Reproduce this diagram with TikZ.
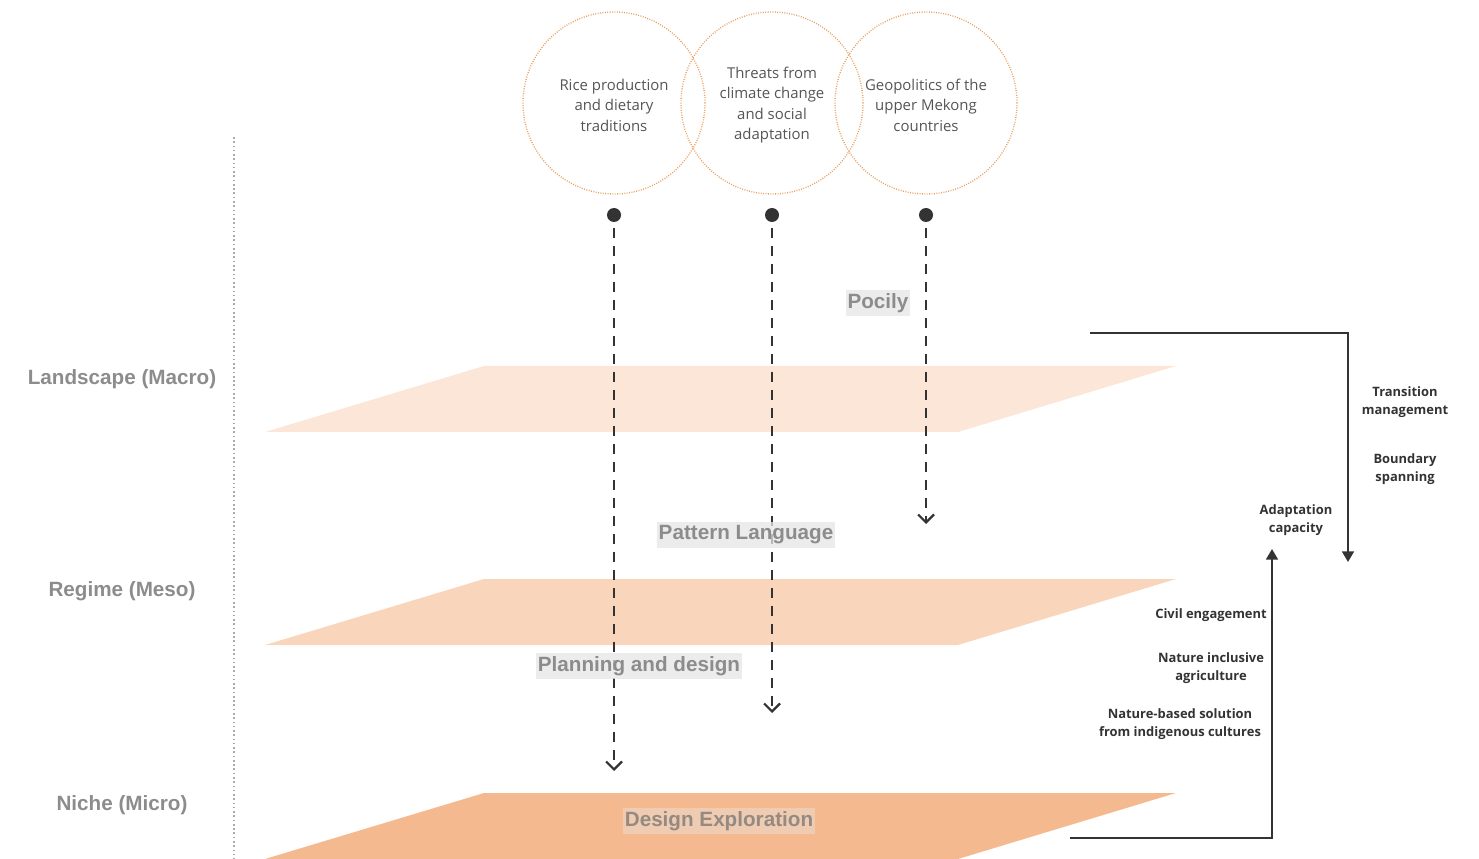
\documentclass[tikz,border=0pt]{standalone}
\usepackage{fontspec}
\setmainfont{Open Sans}
\newfontfamily\lvlfont{Liberation Sans}
\usetikzlibrary{arrows.meta}

\definecolor{ringc}{HTML}{E8A05F}
\definecolor{macroc}{HTML}{FCE6D8}
\definecolor{mesoc}{HTML}{F9D5BC}
\definecolor{microc}{HTML}{F5B98F}
\definecolor{lvltext}{HTML}{8C8C8C}
\definecolor{tagbg}{HTML}{E6E6E6}
\definecolor{ringtext}{HTML}{555555}
\definecolor{inkc}{HTML}{333333}
\definecolor{axisc}{HTML}{AAAAAA}

\tikzset{
  ring/.style={circle, draw=ringc, line width=1pt, dash pattern=on 0.7pt off 1.1pt,
    minimum size=136.5pt, inner sep=0pt, align=center, text=ringtext,
    font=\fontsize{11.2}{15.4}\selectfont},
  pin/.style={circle, fill=inkc, minimum size=10.5pt, inner sep=0pt},
  flowdash/.style={draw=inkc, line width=2pt, dash pattern=on 7.5pt off 6pt,
    -{Straight Barb[length=6pt,width=12pt,line width=1.6pt]}, shorten <=4pt},
  flowsolid/.style={draw=inkc, line width=1.3pt, -{Triangle[length=8pt,width=9pt]}},
  lvllabel/.style={font=\lvlfont\bfseries\fontsize{15.5}{18}\selectfont, text=lvltext},
  tag/.style={lvllabel, fill=tagbg, fill opacity=0.75, text opacity=1,
    inner xsep=1.5pt, inner ysep=2.5pt},
  sidenote/.style={font=\bfseries\fontsize{9.7}{14}\selectfont, text=inkc, align=center},
}

\begin{document}
\begin{tikzpicture}[x=0.75pt, y=-0.75pt]
  \useasboundingbox (0,0) rectangle (1479,859);

  % planes of the three levels
  \fill[macroc] (484,366) -- (1176,366) -- (958,432) -- (265,432) -- cycle;
  \fill[mesoc]  (484,579) -- (1176,579) -- (958,645) -- (265,645) -- cycle;
  \fill[microc] (484,793) -- (1176,793) -- (958,859) -- (265,859) -- cycle;

  % level axis
  \draw[axisc, line width=1.2pt, dotted] (234,137) -- (234,859);
  \node[lvllabel] (macro) at (122,379) {Landscape (Macro)};
  \node[lvllabel] (meso)  at (122,591) {Regime (Meso)};
  \node[lvllabel] (micro) at (122,805) {Niche (Micro)};

  % driving themes
  \node[ring] (c1) at (614,103) {};
  \node[ring] (c2) at (772,103) {};
  \node[ring] (c3) at (926,103) {};
  \node[ring, draw=none] (t1) at (614,105) {Rice production\\and dietary\\traditions};
  \node[ring, draw=none] (t2) at (772,105) {Threats from\\climate change\\and social\\adaptation};
  \node[ring, draw=none] (t3) at (926,105) {Geopolitics of the\\upper Mekong\\countries};

  \node[pin] (d1) at (614,215) {};
  \node[pin] (d2) at (772,215) {};
  \node[pin] (d3) at (926,215) {};

  \coordinate (e1) at (614,771);
  \coordinate (e2) at (772,713);
  \coordinate (e3) at (926,524);

  \draw[flowdash] (d1) -- (e1);
  \draw[flowdash] (d2) -- (e2);
  \draw[flowdash] (d3) -- (e3);

  % instruments per level
  \node[tag] (policy)  at (878,303) {Pocily};
  \node[tag] (pattern) at (746,535) {Pattern Language};
  \node[tag] (plan)    at (639,666) {Planning and design};
  \node[tag, fill opacity=0.4, text=lvltext!85!brown] (explore) at (719,821) {Design Exploration};

  % top-down and bottom-up loops
  \coordinate (tdA) at (1090,333);
  \coordinate (tdB) at (1348,562);
  \draw[flowsolid] (tdA) -| (tdB);

  \coordinate (buA) at (1070,838);
  \coordinate (buB) at (1272,549);
  \draw[flowsolid] (buA) -| (buB);

  \node[sidenote] (tm)  at (1405,402) {Transition\\management};
  \node[sidenote] (bs)  at (1405,469) {Boundary\\spanning};
  \node[sidenote] (ac)  at (1296,520) {Adaptation\\capacity};
  \node[sidenote] (ce)  at (1211,615) {Civil engagement};
  \node[sidenote] (nia) at (1211,668) {Nature inclusive\\agriculture};
  \node[sidenote] (nbs) at (1180,724) {Nature-based solution\\from indigenous cultures};
\end{tikzpicture}
\end{document}
